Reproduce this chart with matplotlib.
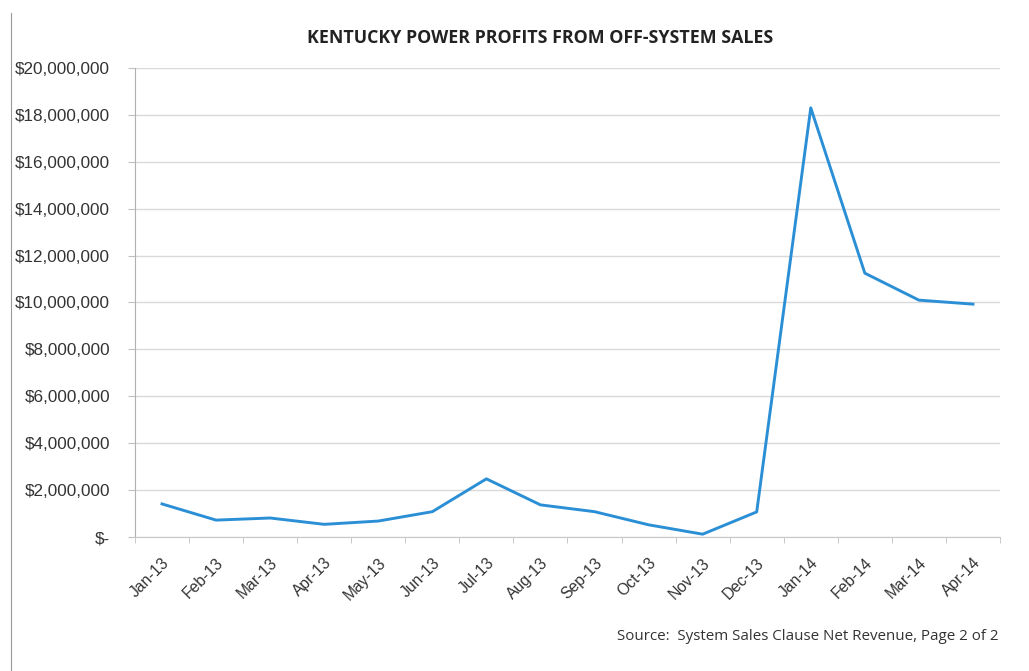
import numpy as np
import matplotlib
matplotlib.use('Agg')
import matplotlib.pyplot as plt
from matplotlib.ticker import FuncFormatter, FixedLocator

# ---- data ----
months = ['Jan-13', 'Feb-13', 'Mar-13', 'Apr-13', 'May-13', 'Jun-13', 'Jul-13', 'Aug-13',
          'Sep-13', 'Oct-13', 'Nov-13', 'Dec-13', 'Jan-14', 'Feb-14', 'Mar-14', 'Apr-14']
profits = [1410000, 720000, 810000, 540000, 680000, 1080000, 2480000, 1370000,
           1080000, 520000, 120000, 1070000, 18300000, 11250000, 10100000, 9930000]
y_ticks = [0, 2e6, 4e6, 6e6, 8e6, 10e6, 12e6, 14e6, 16e6, 18e6, 20e6]


def money(v, pos):
    if v == 0:
        return '$-'
    return '${:,.0f}'.format(v)


fig = plt.figure(figsize=(10.29, 6.71), dpi=100)
ax = fig.add_axes([0.1312, 0.1997, 0.8406, 0.699])

x = np.arange(len(months))
ax.plot(x, profits, color='#2b8fd6', linewidth=2.1, solid_joinstyle='round')

ax.set_xlim(-0.5, len(months) - 0.5)
ax.set_ylim(0, 20e6)
ax.set_yticks(y_ticks)
ax.yaxis.set_major_formatter(FuncFormatter(money))
ax.set_xticks(x)
ax.set_xticklabels(months, rotation=45, ha='right', rotation_mode='anchor')
ax.xaxis.set_minor_locator(FixedLocator(np.arange(-0.5, len(months), 1)))

ax.grid(axis='y', color='#d9d9d9', linewidth=1.0)
ax.set_axisbelow(True)
for s in ['top', 'right']:
    ax.spines[s].set_visible(False)
ax.spines['left'].set_color('#b0b0b0')
ax.spines['bottom'].set_color('#c8c8c8')

ax.tick_params(axis='x', which='major', length=0, pad=13, labelsize=11.3, labelcolor='#333333')
ax.tick_params(axis='x', which='minor', length=4, color='#c0c0c0')
ax.tick_params(axis='y', length=5, color='#c0c0c0', labelsize=12.3, labelcolor='#333333', pad=13)
for lab in ax.get_xticklabels() + ax.get_yticklabels():
    lab.set_family('Liberation Sans')

fig.text(0.525, 0.943, 'KENTUCKY POWER PROFITS FROM OFF-SYSTEM SALES',
         ha='center', va='center', fontsize=12.8, fontweight='bold',
         family='Open Sans', color='#222222')
fig.text(0.97, 0.051, 'Source:  System Sales Clause Net Revenue, Page 2 of 2',
         ha='right', va='center', fontsize=10.9, family='Open Sans', color='#333333')

# page border line from the scan
fig.add_artist(plt.Line2D([0.0105, 0.0105], [0.0, 0.98], color='#999999', linewidth=0.8))

fig.savefig('out.png', dpi=100, facecolor='white')
